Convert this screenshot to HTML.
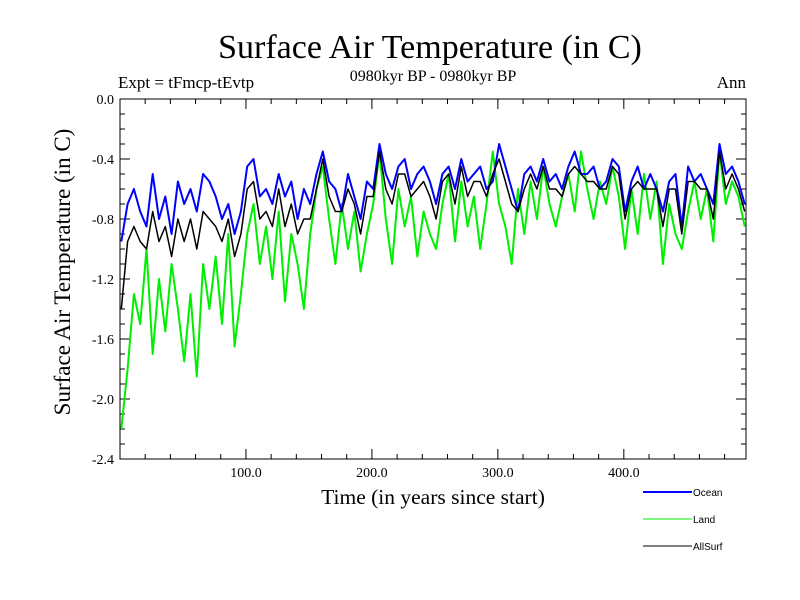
<!DOCTYPE html>
<html><head><meta charset="utf-8"><style>
body{margin:0;background:#fff}
svg{display:block}
text{font-family:"Liberation Serif",serif;fill:#000}
.leg{font-family:"Liberation Sans",sans-serif;font-size:10px}
</style></head><body>
<svg id="chart" width="800" height="600">
<text x="430" y="58" font-size="34" text-anchor="middle">Surface Air Temperature (in C)</text>
<text x="118" y="88" font-size="17">Expt = tFmcp-tEvtp</text>
<text x="433" y="81" font-size="16" text-anchor="middle">0980kyr BP - 0980kyr BP</text>
<text x="746" y="88" font-size="17" text-anchor="end">Ann</text>
<text x="433" y="504" font-size="21.5" text-anchor="middle">Time (in years since start)</text>
<text transform="translate(70,272) rotate(-90)" font-size="23" text-anchor="middle">Surface Air Temperature (in C)</text>
<g id="ticks"></g>
<g id="series"></g>
<rect x="120" y="99" width="626" height="360" fill="none" stroke="#000" stroke-width="1"/>
<g>
<line x1="643" y1="492" x2="692" y2="492" stroke="#0000ff" stroke-width="2"/>
<text class="leg" x="693" y="496">Ocean</text>
<line x1="643" y1="519" x2="692" y2="519" stroke="#00ee00" stroke-width="1"/>
<text class="leg" x="693" y="523">Land</text>
<line x1="643" y1="546" x2="692" y2="546" stroke="#000" stroke-width="1"/>
<text class="leg" x="693" y="550">AllSurf</text>
</g>
</svg>
<script>
const years=[];for(let i=0;i<100;i++)years.push(1+i*5);
const ocean=[-0.95,-0.7,-0.6,-0.75,-0.85,-0.5,-0.8,-0.65,-0.9,-0.55,
-0.7,-0.6,-0.75,-0.5,-0.55,-0.65,-0.8,-0.7,-0.9,-0.75,
-0.45,-0.4,-0.65,-0.6,-0.7,-0.5,-0.65,-0.55,-0.8,-0.6,
-0.7,-0.5,-0.35,-0.55,-0.6,-0.75,-0.5,-0.65,-0.8,-0.55,
-0.6,-0.3,-0.5,-0.6,-0.45,-0.4,-0.6,-0.5,-0.45,-0.55,
-0.7,-0.5,-0.45,-0.6,-0.4,-0.55,-0.5,-0.45,-0.6,-0.55,
-0.3,-0.45,-0.6,-0.75,-0.5,-0.45,-0.55,-0.4,-0.55,-0.5,
-0.6,-0.45,-0.35,-0.5,-0.5,-0.45,-0.6,-0.55,-0.4,-0.45,
-0.75,-0.55,-0.45,-0.6,-0.5,-0.6,-0.75,-0.55,-0.5,-0.85,
-0.45,-0.55,-0.5,-0.6,-0.7,-0.3,-0.5,-0.45,-0.55,-0.7];
const land=[-2.2,-1.8,-1.3,-1.5,-1.0,-1.7,-1.2,-1.55,-1.1,-1.4,
-1.75,-1.3,-1.85,-1.1,-1.4,-1.05,-1.5,-0.9,-1.65,-1.3,
-0.9,-0.7,-1.1,-0.85,-1.2,-0.75,-1.35,-0.9,-1.1,-1.4,
-0.9,-0.6,-0.45,-0.8,-1.1,-0.7,-1.0,-0.75,-1.15,-0.9,
-0.7,-0.35,-0.8,-1.1,-0.6,-0.85,-0.65,-1.05,-0.75,-0.9,
-1.0,-0.7,-0.5,-0.95,-0.55,-0.85,-0.65,-1.0,-0.7,-0.35,
-0.7,-0.85,-1.1,-0.6,-0.9,-0.55,-0.8,-0.45,-0.7,-0.85,
-0.65,-0.5,-0.75,-0.35,-0.6,-0.8,-0.55,-0.7,-0.45,-0.65,
-1.0,-0.6,-0.9,-0.5,-0.8,-0.55,-1.1,-0.7,-0.9,-1.0,
-0.75,-0.55,-0.8,-0.6,-0.95,-0.35,-0.7,-0.55,-0.65,-0.85];
const allSurf=[-1.4,-0.95,-0.85,-0.95,-1.0,-0.75,-0.95,-0.85,-1.05,-0.8,
-0.95,-0.8,-1.0,-0.75,-0.8,-0.85,-0.95,-0.8,-1.05,-0.9,
-0.6,-0.55,-0.8,-0.75,-0.85,-0.6,-0.85,-0.7,-0.9,-0.8,
-0.8,-0.6,-0.4,-0.65,-0.75,-0.75,-0.6,-0.7,-0.9,-0.65,
-0.65,-0.35,-0.6,-0.7,-0.5,-0.5,-0.65,-0.6,-0.55,-0.65,
-0.8,-0.55,-0.5,-0.7,-0.45,-0.65,-0.55,-0.55,-0.65,-0.5,
-0.4,-0.55,-0.7,-0.75,-0.6,-0.5,-0.6,-0.45,-0.6,-0.6,
-0.65,-0.5,-0.45,-0.5,-0.55,-0.55,-0.6,-0.6,-0.45,-0.5,
-0.8,-0.6,-0.55,-0.6,-0.6,-0.6,-0.85,-0.6,-0.6,-0.9,
-0.55,-0.55,-0.6,-0.6,-0.8,-0.35,-0.6,-0.5,-0.6,-0.75];
const yTickLabels=["0.0","-0.4","-0.8","-1.2","-1.6","-2.0","-2.4"];
const xTickLabels=["100.0","200.0","300.0","400.0"];
const X0=120,X1=746,Y0=99,Y1=459,XMIN=0,XMAX=497,YMIN=-2.4,YMAX=0;
const sx=v=>X0+(v-XMIN)/(XMAX-XMIN)*(X1-X0);
const sy=v=>Y0+(YMAX-v)/(YMAX-YMIN)*(Y1-Y0);
const NS="http://www.w3.org/2000/svg";
const tk=document.getElementById('ticks');
function mk(tag,attrs,parent){const e=document.createElementNS(NS,tag);for(const k in attrs)e.setAttribute(k,attrs[k]);parent.appendChild(e);return e;}
for(let v=20;v<XMAX;v+=20){
 const major=v%100===0,L=major?10:5,x=sx(v);
 const a=mk('line',{x1:x,y1:Y1,x2:x,y2:Y1-L,stroke:'#000'},tk);
 
 
 const b=mk('line',{x1:x,y1:Y0,x2:x,y2:Y0+L,stroke:'#000'},tk);
 
 
}
xTickLabels.forEach(s=>{
 const t=mk('text',{x:sx(parseFloat(s)),y:Y1+18,'font-size':14,'text-anchor':'middle'},tk);t.textContent=s;
 
 
});
for(let i=0;i<=24;i++){
 const v=-i*0.1,major=i%4===0,L=major?10:5,y=sy(v);
 const a=mk('line',{x1:X0,y1:y,x2:X0+L,y2:y,stroke:'#000'},tk);
 
 
 const b=mk('line',{x1:X1,y1:y,x2:X1-L,y2:y,stroke:'#000'},tk);
 
 
}
yTickLabels.forEach(s=>{
 const t=mk('text',{x:X0-6,y:sy(parseFloat(s))+5,'font-size':14,'text-anchor':'end'},tk);t.textContent=s;
 
 
});
const sg=document.getElementById('series');
function line(vals,color,w,name){
 const d=vals.map((v,i)=>(i?'L':'M')+sx(years[i]).toFixed(1)+','+sy(v).toFixed(1)).join('');
 const p=mk('path',{d:d,fill:'none',stroke:color,'stroke-width':w,'stroke-linejoin':'round'},sg);
 
 
}
line(land,'#00ee00',2,'land-line');
line(ocean,'#0000ff',2,'ocean-line');
line(allSurf,'#000000',1.5,'allsurf-line');
</script>
</body></html>
